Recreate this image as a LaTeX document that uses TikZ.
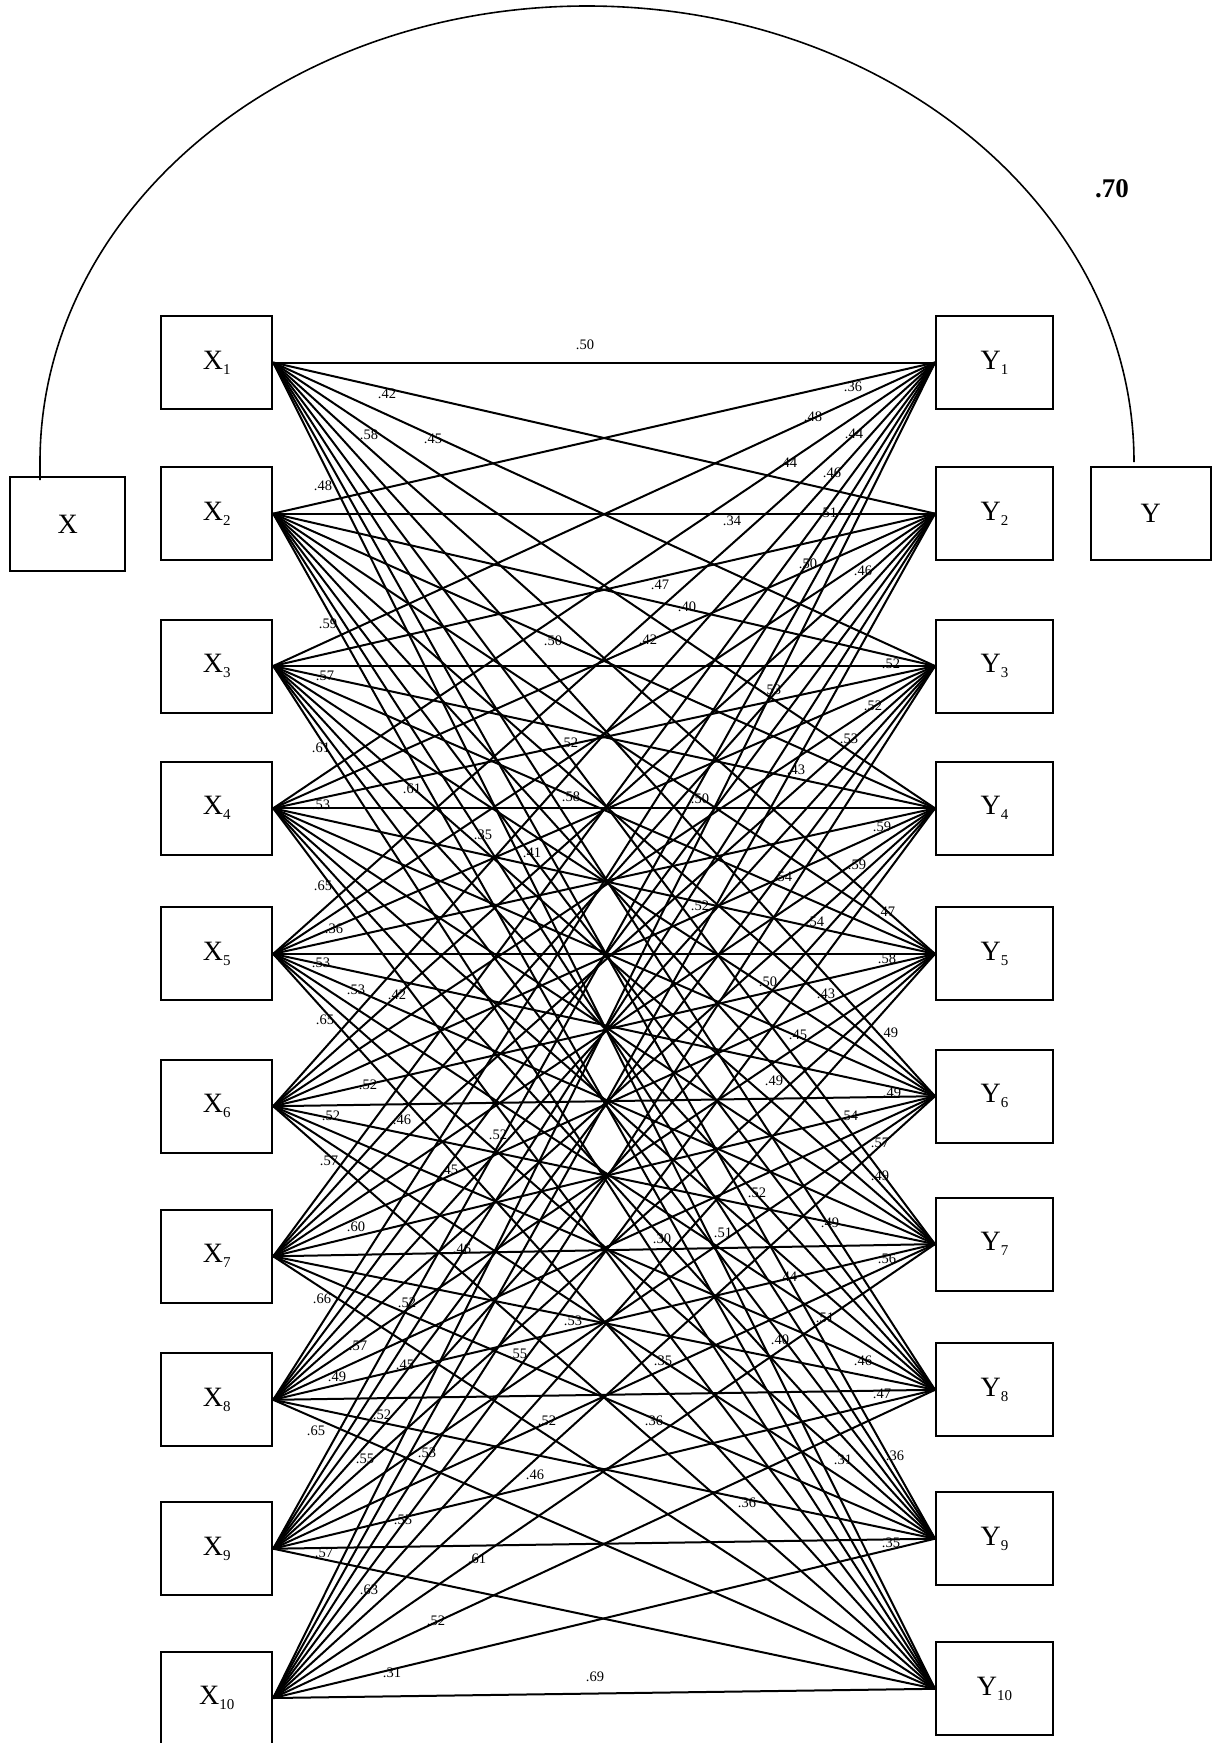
\documentclass[tikz,border=0pt]{standalone}
\usepackage{fontspec}
\setmainfont{Liberation Serif}
\newcommand\boxsub[1]{\lower5pt\hbox{\fontsize{15}{15}\selectfont #1}}
\begin{document}
\begin{tikzpicture}[x=1pt,y=-1pt,
 box/.style={draw,line width=2pt,minimum width=111pt,minimum height=93pt,inner sep=0pt,font=\fontsize{28}{30}\selectfont},
 lbl/.style={font=\fontsize{14.5}{16}\selectfont,inner sep=0pt},
 link/.style={line width=2pt}]
\useasboundingbox (0,0) rectangle (1213,1743);
% left and right columns
\foreach \i/\yy in {1/362.5,2/513.6,3/666,4/808.3,5/953.9,6/1106.2,7/1256.3,8/1399.8,9/1548.7,10/1698}
  \node[box] (X\i) at (216.7,\yy) {X\boxsub{\i}};
\foreach \i/\yy in {1/362.5,2/513.6,3/666,4/808.3,5/953.9,6/1096.2,7/1244.1,8/1389.8,9/1538.7,10/1688.8}
  \node[box,minimum width=117pt] (Y\i) at (994.5,\yy) {Y\boxsub{\i}};
% all connectors
\foreach \i in {1,...,10}
  \foreach \j in {1,...,10}
    \draw[link] (X\i.east) -- (Y\j.west);
% global boxes
\node[box,minimum width=115pt,minimum height=94pt] (X) at (67.8,524.3) {X};
\node[box,minimum width=120pt] (Y) at (1150.8,513.6) {Y};
\coordinate (ax) at (40,480);
\coordinate (ay) at (1134,462);
\draw[line width=1.6pt] (ax) -- (40,462) arc[start angle=180,end angle=360,x radius=547,y radius=456] -- (ay);
\node[font=\bfseries\fontsize{27}{29}\selectfont,inner sep=0pt] (r) at (1112,189) {.70};
% coefficient labels
\foreach \t/\x/\y [count=\k] in {
.50/585/345,.42/387/394,.36/853/387,.58/369/435,.45/433/439,.48/813/417,.44/854/434,.48/323/486,.44/788/463,.46/832/473,
.34/732/521,.51/828/513,.50/808/564,.46/863/571,.47/660/585,.40/687/607,.59/328/624,.50/553/641,.42/648/640,.52/891/664,
.57/325/676,.53/772/690,.52/873/706,.61/321/748,.52/569/743,.53/849/739,.43/796/770,.53/321/805,.61/412/789,.58/571/797,
.50/700/799,.59/882/827,.35/483/835,.41/532/853,.59/857/865,.54/783/877,.65/323/886,.47/886/912,.52/700/906,.54/815/922,
.36/334/929,.58/887/959,.53/321/963,.53/356/990,.42/397/995,.50/768/982,.43/826/994,.65/325/1020,.45/798/1035,.49/889/1033,
.52/368/1085,.49/774/1081,.49/892/1093,.52/331/1116,.46/402/1120,.54/849/1116,.52/498/1135,.57/329/1161,.57/880/1143,.45/449/1170,
.49/880/1176,.52/757/1193,.60/356/1227,.49/830/1223,.51/723/1233,.30/662/1239,.46/462/1249,.56/887/1259,.66/322/1299,.44/788/1277,
.52/407/1303,.53/573/1321,.51/825/1318,.57/358/1346,.55/518/1354,.40/780/1340,.49/337/1377,.45/405/1365,.35/663/1361,.46/863/1361,
.52/382/1415,.52/547/1421,.36/654/1421,.47/882/1394,.65/316/1431,.55/365/1459,.53/427/1453,.31/843/1460,.36/895/1456,.46/535/1475,
.36/747/1503,.55/403/1520,.35/891/1543,.57/324/1553,.61/477/1559,.63/369/1590,.52/436/1621,.31/392/1673,.69/595/1677}
  \node[lbl] (lab\k) at (\x,\y) {\t};
\end{tikzpicture}
\end{document}
